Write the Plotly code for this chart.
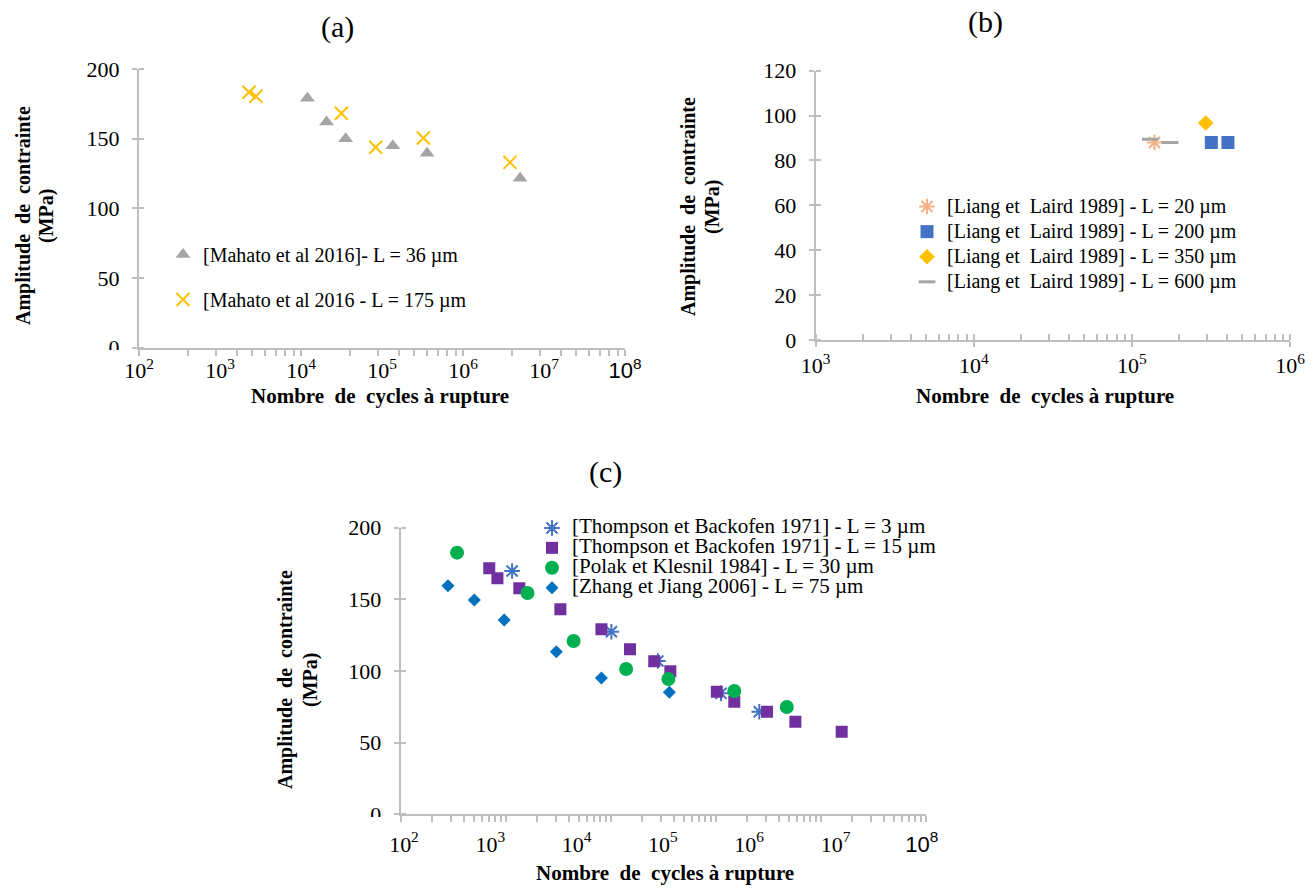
import plotly.graph_objects as go
from math import log10

W, H = 1316, 888
def PX(x): return x / W
def PY(y): return 1 - y / H

# ---------------- data ----------------
# (a) Mahato et al 2016
a36_N = [1.20e4, 2.07e4, 3.56e4, 1.36e5, 3.60e5, 5.06e6]
a36_S = [179, 162, 150, 145, 139.5, 121.6]
a175_N = [2.28e3, 2.78e3, 3.15e4, 8.36e4, 3.24e5, 3.80e6]
a175_S = [183.3, 180.4, 168.2, 143.8, 150.5, 133.0]
a_names = ["[Mahato et al 2016]- L = 36 µm", "[Mahato et al 2016 - L = 175 µm"]

# (b) Liang et Laird 1989
b20_N = [1.39e5]
b20_S = [88]
b200_N = [3.18e5, 4.05e5]
b200_S = [88, 88]
b350_N = [2.93e5]
b350_S = [96.7]
b600_N = [1.31e5, 1.74e5]
b600_S = [89.5, 88]
b_names = ["[Liang et  Laird 1989] - L = 20 µm", "[Liang et  Laird 1989] - L = 200 µm",
           "[Liang et  Laird 1989] - L = 350 µm", "[Liang et  Laird 1989] - L = 600 µm"]

# (c)
c3_N = [1.79e3, 2.53e4, 8.75e4, 4.72e5, 1.31e6]
c3_S = [169.8, 127.4, 107.0, 84.4, 71.6]
c15_N = [9.73e2, 1.21e3, 2.17e3, 6.49e3, 1.94e4, 4.16e4, 7.94e4, 1.22e5,
         4.22e5, 6.72e5, 1.61e6, 3.43e6, 1.18e7]
c15_S = [171.7, 164.7, 157.7, 143.1, 129.1, 115.1, 106.8, 99.8, 85.6, 78.6, 71.6, 64.6, 57.6]
c30_N = [4.12e2, 2.70e3, 9.23e3, 3.75e4, 1.16e5, 6.72e5, 2.73e6]
c30_S = [182.6, 154.4, 120.9, 101.4, 94.4, 86.0, 74.9]
c75_N = [3.23e2, 6.53e2, 1.45e3, 5.83e3, 1.94e4, 1.19e5]
c75_S = [159.5, 149.5, 135.6, 113.5, 95.1, 85.1]
c_names = ["[Thompson et Backofen 1971] - L = 3 µm", "[Thompson et Backofen 1971] - L = 15 µm",
           "[Polak et Klesnil 1984] - L = 30 µm", "[Zhang et Jiang 2006] - L = 75 µm"]

exp_labels = ["10<sup>2</sup>", "10<sup>3</sup>", "10<sup>4</sup>", "10<sup>5</sup>",
              "10<sup>6</sup>", "10<sup>7</sup>",
              "<span style='font-family:Liberation Sans'>10<sup>8</sup></span>"]
exp_vals = [1e2, 1e3, 1e4, 1e5, 1e6, 1e7, 1e8]
b_labels = ["10<sup>3</sup>", "10<sup>4</sup>", "10<sup>5</sup>", "10<sup>6</sup>"]
b_vals = [1e3, 1e4, 1e5, 1e6]

SERIF = "Liberation Serif"
GRID = "#BFBFBF"

fig = go.Figure()

def big(s, px):
    return "<span style='font-size:%spx'>%s</span>" % (px, s)

def sc(x, y, name, xa, ya, leg, color, symbol, size, lw=0, fs=20):
    fig.add_trace(go.Scatter(
        x=x, y=y, name=big(name, fs), mode="markers", xaxis=xa, yaxis=ya, legend=leg,
        legendgroup=name,
        marker=dict(color=color, symbol=symbol, size=size,
                    line=dict(width=lw, color=color))))

# (a)
sc(a36_N, a36_S, a_names[0], "x", "y", "legend", "#A5A5A5", "triangle-up", 13)
sc(a175_N, a175_S, a_names[1], "x", "y", "legend", "#FFC000", "x-thin-open", 13, 2)
# (b)
sc(b20_N, b20_S, b_names[0], "x2", "y2", "legend2", "#F4B183", "asterisk-open", 13, 2)
sc(b200_N, b200_S, b_names[1], "x2", "y2", "legend2", "#4472C4", "square", 13)
sc(b350_N, b350_S, b_names[2], "x2", "y2", "legend2", "#FFC000", "diamond", 12)
sc(b600_N, b600_S, b_names[3], "x2", "y2", "legend2", "#A5A5A5", "line-ew-open", 12, 3)
# (c)
sc(c3_N, c3_S, c_names[0], "x3", "y3", "legend3", "#4472C4", "asterisk-open", 13, 2, 21)
sc(c15_N, c15_S, c_names[1], "x3", "y3", "legend3", "#7030A0", "square", 12, 0, 21)
sc(c30_N, c30_S, c_names[2], "x3", "y3", "legend3", "#00B050", "circle", 14, 0, 21)
sc(c75_N, c75_S, c_names[3], "x3", "y3", "legend3", "#0070C0", "diamond", 10, 0, 21)

tickfont = dict(family=SERIF, size=22, color="black")

def yax(dom, rng, dtick, anchor):
    vals = list(range(rng[0], rng[1] + 1, dtick))
    # ticks crossing the axis line: outside major + inside minor at the same values
    return dict(domain=dom, range=rng, tickmode="array", tickvals=vals, anchor=anchor,
                showgrid=False, zeroline=False, showline=True, linecolor=GRID, linewidth=2,
                ticks="outside", ticklen=5, tickwidth=1.5, tickcolor=GRID,
                tickfont=tickfont, ticklabelstandoff=8, automargin=False,
                minor=dict(tickmode="array", tickvals=vals, ticks="inside", ticklen=5,
                           tickwidth=1.5, tickcolor=GRID))

def xax(dom, rng, anchor, vals, text, major_len, minor_vals, standoff, minor_side="outside"):
    return dict(domain=dom, type="log", range=rng, anchor=anchor, showgrid=False,
                zeroline=False, showline=True, linecolor=GRID, linewidth=2,
                tickmode="array", tickvals=vals, ticktext=text, tickfont=tickfont,
                ticks="outside" if major_len else "", ticklen=major_len or 1,
                tickwidth=1.5, tickcolor=GRID, ticklabelstandoff=standoff,
                automargin=False,
                minor=dict(tickmode="array", tickvals=minor_vals, ticks=minor_side,
                           ticklen=6, tickwidth=1.5, tickcolor=GRID))

# (a): Excel-style base-100 log axis -> long ticks every 2 decades, minor at 100^d * k^2
a_minor = [1e2, 1e4, 1e6, 1e8] + [100 ** d * k * k for d in (1, 2, 3) for k in range(2, 10)]
# (b): standard decades; all ticks cross the axis
b_ticks = [10 ** d * k for d in (3, 4, 5) for k in range(1, 10)] + [1e6]
b_text = [b_labels[b_vals.index(v)] if v in b_vals else "" for v in b_ticks]
# (c): tick marks span 5 decades while the labels span 6 (as drawn in the reference)
c_lo, c_hi = 1.962, 8.043
c_step = (c_hi - c_lo) / 5
c_minor = []
for d in range(5):
    c_minor.append(10 ** (c_lo + d * c_step))
    for k in range(2, 10):
        c_minor.append(10 ** (c_lo + (d + log10(k)) * c_step))
c_minor.append(10 ** c_hi)

dom_a_x = [PX(139), PX(625)]
dom_a_y = [PY(347.7), PY(69)]
dom_b_x = [PX(815.7), PX(1290)]
dom_b_y = [PY(340), PY(70.7)]
dom_c_x = [PX(400.7), PX(925.5)]
dom_c_y = [PY(814.3), PY(527.7)]

legfont = dict(family=SERIF, color="black")
fig.update_layout(
    width=W, height=H,
    margin=dict(l=0, r=0, t=0, b=0, pad=0, autoexpand=False),
    paper_bgcolor="white", plot_bgcolor="white", showlegend=True,
    xaxis=xax(dom_a_x, [2, 8], "y", exp_vals, exp_labels, 0, a_minor, 2),
    yaxis=yax(dom_a_y, [0, 200], 50, "x"),
    xaxis2=xax(dom_b_x, [3, 6], "y2", b_ticks, b_text, 5, b_ticks, 0, "inside"),
    yaxis2=yax(dom_b_y, [0, 120], 20, "x2"),
    xaxis3=xax(dom_c_x, [c_lo, c_hi], "y3", exp_vals, exp_labels, 0, c_minor, 9),
    yaxis3=yax(dom_c_y, [0, 200], 50, "x3"),
    legend=dict(x=PX(163), y=PY(235), xanchor="left", yanchor="top",
                font=dict(legfont, size=20), bgcolor="rgba(0,0,0,0)",
                tracegroupgap=16, traceorder="grouped"),
    legend2=dict(x=PX(907), y=PY(189), xanchor="left", yanchor="top",
                 font=dict(legfont, size=17), bgcolor="rgba(0,0,0,0)",
                 tracegroupgap=0, traceorder="grouped"),
    legend3=dict(x=PX(532), y=PY(513), xanchor="left", yanchor="top",
                 font=dict(legfont, size=13), bgcolor="rgba(0,0,0,0)",
                 tracegroupgap=0, traceorder="grouped"),
)

ann = []
def txt(x, y, s, size, angle=0):
    ann.append(dict(x=PX(x), y=PY(y), xref="paper", yref="paper", text=s,
                    showarrow=False, textangle=angle, xanchor="center", yanchor="middle",
                    font=dict(family=SERIF, size=size, color="black")))

txt(337, 27, "(a)", 30)
txt(985, 22, "(b)", 30)
txt(605, 472, "(c)", 30)
for (xa, xb, yc) in [(24, 47, 216), (688, 712, 207), (285, 310, 680)]:
    txt(xa, yc, "<b>Amplitude  de  contrainte</b>", 20, -90)
    txt(xb, yc, "<b>(MPa)</b>", 20, -90)
xtitle = "<b>Nombre  de  cycles à rupture</b>"
txt(380, 396, xtitle, 21)
txt(1045, 396, xtitle, 21)
txt(665, 873, xtitle, 21)
fig.update_layout(annotations=ann)

# the reference shows the "0" label half hidden behind the axis labels
fig.add_shape(type="rect", xref="paper", yref="paper", x0=PX(95), x1=PX(134),
              y0=PY(362), y1=PY(350), fillcolor="white", line=dict(width=0), layer="above")
fig.add_shape(type="rect", xref="paper", yref="paper", x0=PX(355), x1=PX(396),
              y0=PY(829), y1=PY(817), fillcolor="white", line=dict(width=0), layer="above")

fig.write_html("out.html", config={"displayModeBar": False},
               post_script="document.body.style.margin='0px';")
